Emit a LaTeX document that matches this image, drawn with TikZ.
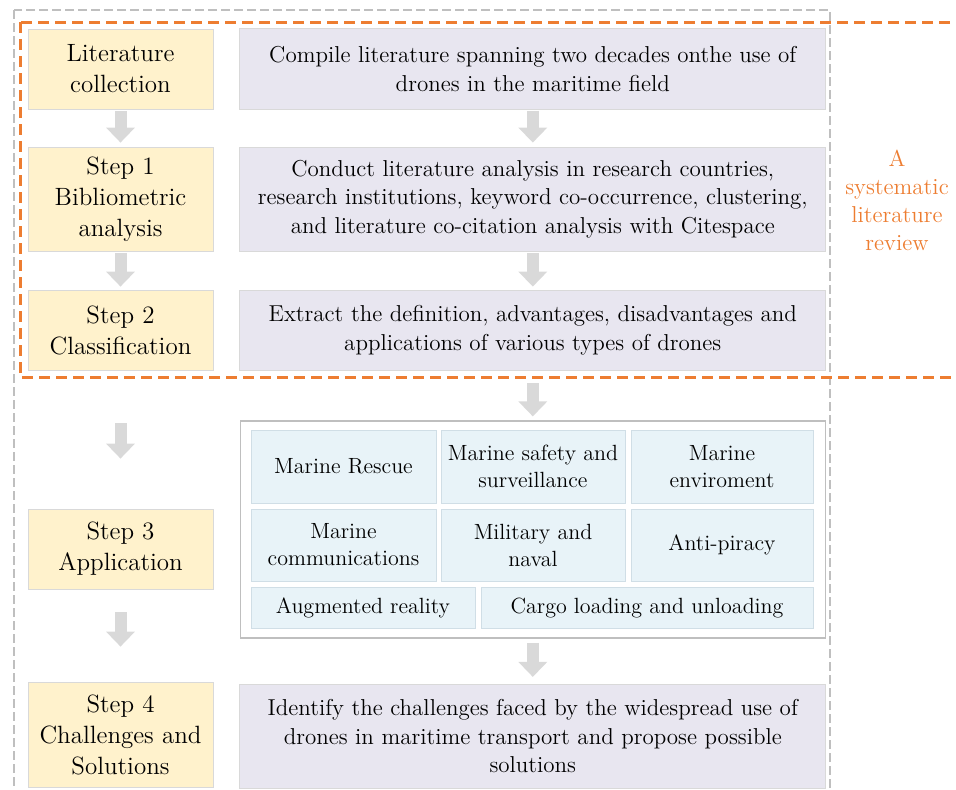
\documentclass[tikz,border=0pt]{standalone}
\usepackage{tikz}
\usetikzlibrary{arrows.meta}
\usetikzlibrary{positioning}
\definecolor{myellow}{RGB}{255,242,204}
\definecolor{mpurple}{RGB}{232,230,240}
\definecolor{mblue}{RGB}{232,243,248}
\definecolor{morange}{RGB}{237,125,49}
\definecolor{mline}{RGB}{217,217,217}
\definecolor{mcell}{RGB}{208,222,230}
\definecolor{mdash}{RGB}{191,191,191}
\tikzset{stepbox/.style = {draw=mline, fill=myellow, minimum width=92.5pt, inner sep=0,
                           align=center, font=\fontsize{12.5}{15.5}\selectfont}}
\tikzset{descbox/.style = {draw=mline, fill=mpurple, minimum width=293pt, inner sep=0,
                           align=center, font=\fontsize{11.5}{14.25}\selectfont}}
\tikzset{cell/.style = {draw=mcell, fill=mblue, inner sep=0, align=center,
                        font=\fontsize{11}{13.5}\selectfont}}
\tikzset{flow/.style = {draw=mline, line width=6pt, -{Triangle[width=14pt, length=7.5pt]}}}

\begin{document}
\begin{tikzpicture}[x=0.5pt, y=-0.5pt]
    \useasboundingbox (0, 0) rectangle (956, 789);

    % frames
    \draw [mdash, line width=1pt, dash pattern=on 4.5pt off 2pt] (14, 10) rectangle (830, 810);
    \draw [morange, line width=1.5pt, dash pattern=on 5.5pt off 3pt] (20, 22) rectangle (980, 377);
    \node [morange, align=center, font=\fontsize{11.5}{14}\selectfont] (slr) at (897, 200)
        {A\\systematic\\literature\\review};

    % steps
    \node [stepbox, minimum height=40pt] (lit) at (120.5, 69) {Literature\\collection};
    \node [stepbox, minimum height=52pt] (s1) at (120.5, 199) {Step 1\\Bibliometric\\analysis};
    \node [stepbox, minimum height=40pt] (s2) at (120.5, 330) {Step 2\\Classification};
    \node [stepbox, minimum height=40pt] (s3) at (120.5, 549) {Step 3\\Application};
    \node [stepbox, minimum height=52.5pt] (s4) at (120.5, 734.5) {Step 4\\Challenges and\\Solutions};

    % descriptions
    \node [descbox, minimum height=40.5pt, right=13pt of lit] (p1)
        {Compile literature spanning two decades onthe use of\\drones in the maritime field};
    \node [descbox, minimum height=52pt, right=13pt of s1] (p2)
        {Conduct literature analysis in research countries,\\research institutions, keyword co-occurrence, clustering,\\and literature co-citation analysis with Citespace};
    \node [descbox, minimum height=40pt, right=13pt of s2] (p3)
        {Extract the definition, advantages, disadvantages and\\applications of various types of drones};
    \node [draw=mdash, line width=0.75pt, fill=white, minimum width=292.5pt, minimum height=108.5pt,
           below=25pt of p3] (app) {};
    \node [descbox, minimum height=52pt, below=22.5pt of app] (p4)
        {Identify the challenges faced by the widespread use of\\drones in maritime transport and propose possible\\solutions};

    % applications
    \node [cell, minimum width=92.5pt, minimum height=36.5pt] (rescue) at (343.5, 466.5) {Marine Rescue};
    \node [cell, minimum width=92pt, minimum height=36.5pt] (safety) at (533, 466.5) {Marine safety and\\surveillance};
    \node [cell, minimum width=91pt, minimum height=36.5pt] (env) at (722, 466.5) {Marine\\enviroment};
    \node [cell, minimum width=92.5pt, minimum height=36pt] (comm) at (343.5, 545) {Marine\\communications};
    \node [cell, minimum width=92pt, minimum height=36pt] (naval) at (533, 545) {Military and\\naval};
    \node [cell, minimum width=91pt, minimum height=36pt] (piracy) at (722, 545) {Anti-piracy};
    \node [cell, minimum width=112pt, minimum height=20.5pt] (ar) at (363, 607.5) {Augmented reality};
    \node [cell, minimum width=166pt, minimum height=20.5pt] (cargo) at (647, 607.5) {Cargo loading and unloading};

    % arrows
    \draw [flow, shorten <=1pt, shorten >=2pt] (lit) -- (s1);
    \draw [flow, shorten <=1pt, shorten >=1.5pt] (s1) -- (s2);
    \draw [flow, shorten <=26.5pt, shorten >=25pt] (s2) -- (s3);
    \draw [flow, shorten <=11.5pt, shorten >=17.5pt] (s3) -- (s4);
    \draw [flow, shorten <=0.5pt, shorten >=2pt] (p1) -- (p2);
    \draw [flow, shorten <=1pt, shorten >=1.5pt] (p2) -- (p3);
    \draw [flow, shorten <=6.5pt, shorten >=2pt] (p3) -- (app);
    \draw [flow, shorten <=2pt, shorten >=3.5pt] (app) -- (p4);
  \end{tikzpicture}
\end{document}
